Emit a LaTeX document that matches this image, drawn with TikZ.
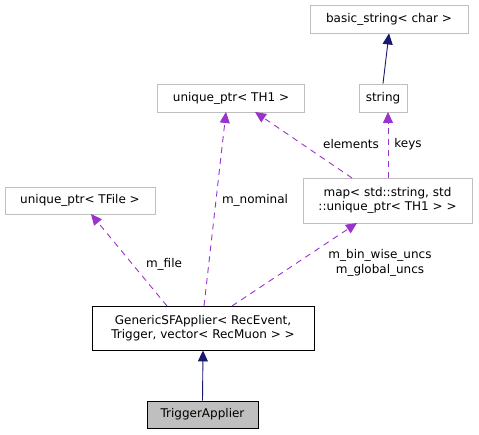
\documentclass[tikz,border=0pt]{standalone}
\usepackage{fontspec}
\setmainfont{DejaVu Sans}
\usetikzlibrary{arrows.meta}
\definecolor{edgegray}{HTML}{BFBFBF}
\definecolor{inhcol}{HTML}{191970}
\definecolor{usecol}{HTML}{9A32CD}
\tikzset{
  cls/.style={draw=edgegray, line width=0.9pt, fill=white, font=\fontsize{12}{14.5}\selectfont, inner sep=0pt, align=center},
  main/.style={draw=black, line width=0.9pt, fill=white, font=\fontsize{12}{14.5}\selectfont, inner sep=0pt, align=center},
  inh/.style={draw=inhcol, line width=0.9pt, -{Triangle[length=11pt,width=10pt]}},
  use/.style={draw=usecol, line width=0.9pt, dash pattern=on 6pt off 5pt, -{Triangle[length=11pt,width=10pt]}},
  lbl/.style={font=\fontsize{12}{14.5}\selectfont, align=center, inner sep=0pt}
}
\begin{document}
\begin{tikzpicture}[x=1pt,y=-1pt]
\useasboundingbox (0,0) rectangle (479,435);
\node[cls, minimum width=158pt, minimum height=28pt] (bs) at (389,19) {basic\_string< char >};
\node[cls, minimum width=48pt, minimum height=28pt] (str) at (383,98) {string};
\node[cls, minimum width=147pt, minimum height=28pt] (uth) at (231,98) {unique\_ptr< TH1 >};
\node[cls, minimum width=150pt, minimum height=27pt] (utf) at (80,200.5) {unique\_ptr< TFile >};
\node[cls, minimum width=169pt, minimum height=45pt] (map) at (387.5,200.5) {map< std::string, std\\::unique\_ptr< TH1 > >};
\node[main, minimum width=222pt, minimum height=44pt] (gen) at (203,328) {GenericSFApplier< RecEvent,\\ Trigger, vector< RecMuon > >};
\node[main, fill=edgegray, minimum width=111pt, minimum height=27pt] (trig) at (202.5,414.5) {TriggerApplier};

\draw[inh] (str.north) -- (bs.south);
\draw[inh] (trig.north) -- (gen.south);

\coordinate (mapA) at (352,178);
\coordinate (uthA) at (255,112);
\draw[use] (mapA) -- (uthA);
\node[lbl] (lel) at (351,144) {elements};
\coordinate (mapB) at (388,178);
\coordinate (strB) at (388,112);
\draw[use] (mapB) -- (strB);
\node[lbl] (lkeys) at (408,144) {keys};

\coordinate (genA) at (204,306);
\coordinate (uthB) at (226,112);
\draw[use] (genA) -- (uthB);
\node[lbl] (lnom) at (255,200) {m\_nominal};

\coordinate (genB) at (167,306);
\coordinate (utfB) at (91,214);
\draw[use] (genB) -- (utfB);
\node[lbl] (lfile) at (164,264) {m\_file};

\coordinate (genC) at (232,306);
\coordinate (mapC) at (357,223);
\draw[use] (genC) -- (mapC);
\node[lbl] (lmap) at (380,263) {m\_bin\_wise\_uncs\\m\_global\_uncs};
\end{tikzpicture}
\end{document}
